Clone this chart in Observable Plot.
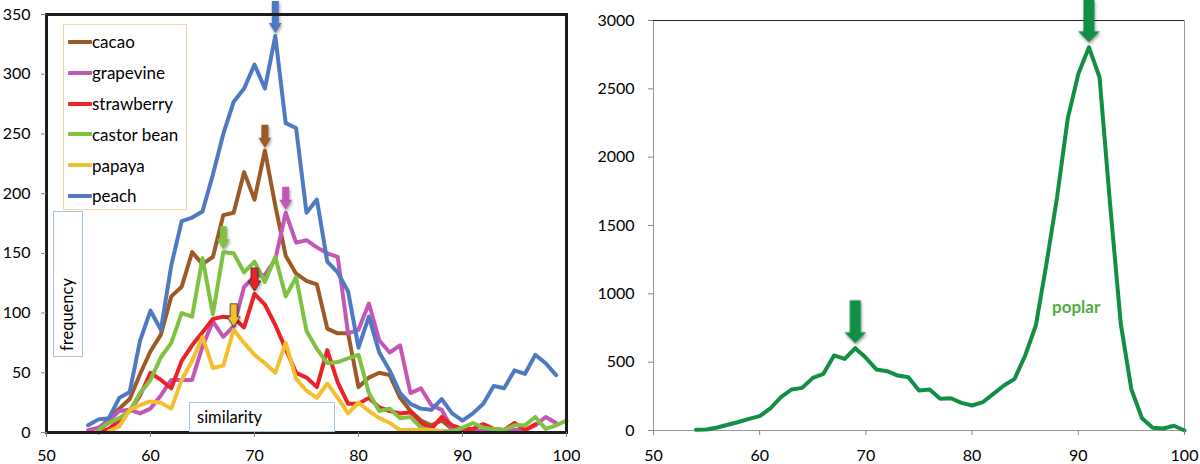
<!DOCTYPE html>
<html><head><meta charset="utf-8">
<script src="https://cdn.jsdelivr.net/npm/d3@7"></script>
<script src="https://cdn.jsdelivr.net/npm/@observablehq/plot@0.6"></script>
<style>
body{margin:0;background:#fff;font-family:Lato,"Open Sans",sans-serif;}
#wrap{position:relative;width:1200px;height:464px;overflow:hidden;background:#fff;}
#left{position:absolute;left:0;top:0;}
#right{position:absolute;left:580px;top:0;}
.box{position:absolute;border:1px solid #a9c4de;background:#fff;box-sizing:border-box;}
#legend{position:absolute;left:63px;top:24px;width:124px;height:186px;border:1px solid #f0d9a6;background:#fff;box-sizing:border-box;padding-top:1.6px;}
.row{height:30.8px;display:flex;align-items:center;font-size:17px;color:#000;}
.sw{width:24px;height:4px;margin-left:4px;margin-right:0px;border-radius:1px;}
#freq{left:53px;top:211px;width:30px;height:146px;}
#freq span{position:absolute;left:50%;top:139px;transform-origin:0 0;transform:rotate(-90deg) translate(0,-50%);white-space:nowrap;font-size:16.5px;line-height:1.2;}
#sim{left:189px;top:402px;width:146px;height:30px;}
#sim span{position:absolute;left:7px;top:4px;font-size:16.5px;}
#poplar{position:absolute;left:1052px;top:296px;font-size:17px;font-weight:bold;color:#4fae3e;}
</style></head>
<body>
<div id="wrap">
  <div id="left"></div>
  <div id="right"></div>
  <div id="legend"></div>
  <div class="box" id="freq"><span>frequency</span></div>
  <div class="box" id="sim"><span>similarity</span></div>
  <div id="poplar">poplar</div>
</div>
<script>
// ---- data ----
const seriesNames = ["cacao", "grapevine", "strawberry", "castor bean", "papaya", "peach"];
const seriesColors = ["#9b5a26", "#c457b6", "#ec2227", "#7fc242", "#f2c02e", "#5079c4"];

const cacaoStart = 55;
const cacao = [2, 12, 20, 28, 49, 68, 82, 114, 122, 151, 141, 147, 182, 184, 218, 195, 236, 190, 148, 133, 127, 124, 87, 83, 83, 38, 46, 50, 48, 29, 18, 10, 6, 10, 3];

const grapevineStart = 54;
const grapevine = [2, 4, 10, 18, 19, 16, 20, 31, 44, 44, 44, 72, 93, 80, 89, 122, 131, 132, 145, 184, 159, 161, 155, 150, 147, 83, 86, 108, 77, 67, 73, 33, 37, 23, 19, 3, 1, 2, 1, 1, 1, 2, 2, 6, 13, 8];

const strawberryStart = 55;
const strawberry = [0, 3, 10, 18, 31, 50, 44, 37, 60, 73, 84, 95, 97, 96, 88, 116, 107, 90, 70, 50, 46, 38, 69, 42, 24, 24, 29, 21, 18, 16, 17, 8, 3, 13, 6, 3, 3, 7, 3, 2, 8, 2, 7];

const castorStart = 55;
const castor = [2, 8, 12, 18, 33, 44, 63, 75, 100, 97, 146, 99, 151, 150, 134, 143, 126, 147, 114, 130, 85, 70, 58, 59, 62, 65, 33, 18, 20, 12, 13, 4, 2, 1, 1, 4, 8, 4, 3, 2, 6, 6, 13, 3, 6, 10];

const papayaStart = 56;
const papaya = [1, 5, 19, 23, 26, 25, 20, 44, 60, 80, 54, 56, 86, 75, 65, 58, 50, 75, 45, 35, 29, 41, 29, 16, 25, 18, 12, 8, 2, 2, 2, 2, 1];

const peachStart = 54;
const peach = [6, 11, 12, 29, 34, 77, 102, 86, 140, 177, 180, 185, 216, 250, 277, 288, 308, 288, 332, 259, 255, 184, 195, 143, 134, 118, 71, 97, 67, 52, 33, 24, 20, 19, 28, 16, 10, 16, 24, 39, 37, 52, 49, 65, 58, 48];

const poplarStart = 54;
const poplar = [5, 8, 22, 42, 62, 85, 105, 161, 244, 300, 312, 385, 415, 549, 524, 602, 532, 446, 434, 402, 390, 293, 300, 232, 236, 202, 183, 207, 268, 329, 378, 549, 768, 1219, 1707, 2280, 2609, 2804, 2585, 1650, 780, 300, 90, 20, 15, 35, 0];

const xTicks = [50, 60, 70, 80, 90, 100];
const yTicksLeft = [0, 50, 100, 150, 200, 250, 300, 350];
const yTicksRight = [0, 500, 1000, 1500, 2000, 2500, 3000];

// ---- build tables ----
const starts = [cacaoStart, grapevineStart, strawberryStart, castorStart, papayaStart, peachStart];
const values = [cacao, grapevine, strawberry, castor, papaya, peach];
const toRows = (start, vals) => vals.map((v, i) => ({x: start + i, y: v}));
const leftSeries = values.map((vals, k) => toRows(starts[k], vals));
const poplarRows = toRows(poplarStart, poplar);

function arrowSymbol(bw, bh, hw, hh, gap) {
  return {draw(ctx) {
    const y0 = -gap;
    ctx.moveTo(0, y0);
    ctx.lineTo(-hw / 2, y0 - hh);
    ctx.lineTo(-bw / 2, y0 - hh);
    ctx.lineTo(-bw / 2, y0 - hh - bh);
    ctx.lineTo(bw / 2, y0 - hh - bh);
    ctx.lineTo(bw / 2, y0 - hh);
    ctx.lineTo(hw / 2, y0 - hh);
    ctx.closePath();
  }};
}
const shadow = "drop-shadow(1px 2px 1.5px rgba(0,0,0,0.35))";

const fontStyle = {fontFamily: "Lato, 'Open Sans', sans-serif", fontSize: "16px", color: "#000", background: "transparent"};

// ---- left chart ----
const leftMarks = [];
leftSeries.forEach((rows, k) => {
  leftMarks.push(Plot.line(rows, {x: "x", y: "y", stroke: seriesColors[k], strokeWidth: 4, strokeLinejoin: "round", strokeLinecap: "round"}));
});
leftSeries.forEach((rows, k) => {
  const peak = rows[d3.maxIndex(rows, d => d.y)];
  const outlined = seriesNames[k] === "strawberry" || seriesNames[k] === "papaya";
  const bh = seriesNames[k] === "peach" ? 22 : 13;
  leftMarks.push(Plot.dot([peak], {
    x: "x", y: "y", r: 1,
    symbol: arrowSymbol(7, bh, 13, 10, 3),
    fill: seriesColors[k],
    stroke: outlined ? "#333" : "none", strokeWidth: outlined ? 0.8 : 0,
    imageFilter: shadow
  }));
});
leftMarks.push(Plot.frame({stroke: "#1c1c1c", strokeWidth: 3}));
leftMarks.push(Plot.axisX({ticks: xTicks, tickSize: 5, tickPadding: 12, stroke: "#888", fill: "#000", tickFormat: d => String(d), fontSize: 16, label: null}));
leftMarks.push(Plot.axisY({ticks: yTicksLeft, tickSize: 5, tickPadding: 11, stroke: "#888", fill: "#000", tickFormat: d => String(d), fontSize: 16, label: null}));

const left = Plot.plot({
  width: 580, height: 464,
  marginLeft: 46, marginRight: 14, marginTop: 14, marginBottom: 32,
  x: {domain: [50, 100]},
  y: {domain: [0, 350]},
  style: fontStyle,
  marks: leftMarks
});
document.getElementById("left").appendChild(left);

// ---- right chart ----
const peakIdx = poplarRows
  .map((d, i) => i)
  .filter(i => poplarRows[i].y > 500 && poplarRows.slice(Math.max(0, i - 5), i + 6).every(o => o.y <= poplarRows[i].y));
const poplarPeaks = peakIdx.map(i => poplarRows[i]);

const right = Plot.plot({
  width: 620, height: 464,
  marginLeft: 73, marginRight: 16, marginTop: 20, marginBottom: 34,
  x: {domain: [50, 100]},
  y: {domain: [0, 3000]},
  style: fontStyle,
  marks: [
    Plot.frame({stroke: "#999", strokeWidth: 1}),
    Plot.ruleY([3000], {stroke: "#222", strokeWidth: 1}),
    Plot.line(poplarRows, {x: "x", y: "y", stroke: "#138e45", strokeWidth: 4, strokeLinejoin: "round", strokeLinecap: "round"}),
    Plot.dot(poplarPeaks, {x: "x", y: "y", r: 1, symbol: arrowSymbol(11, 32, 22, 11, 5), fill: "#119045", stroke: "none", imageFilter: shadow}),
    Plot.axisX({ticks: xTicks, tickSize: 5, tickPadding: 14, stroke: "#888", fill: "#000", tickFormat: d => String(d), fontSize: 16, label: null}),
    Plot.axisY({ticks: yTicksRight, tickSize: 5, tickPadding: 14, stroke: "#888", fill: "#000", tickFormat: d => String(d), fontSize: 16, label: null})
  ]
});
document.getElementById("right").appendChild(right);

// ---- legend ----
const legend = document.getElementById("legend");
seriesNames.forEach((name, k) => {
  const row = document.createElement("div");
  row.className = "row";
  const sw = document.createElement("div");
  sw.className = "sw";
  sw.style.background = seriesColors[k];
  const t = document.createElement("span");
  t.textContent = name;
  row.appendChild(sw); row.appendChild(t);
  legend.appendChild(row);
});
</script>
</body></html>
